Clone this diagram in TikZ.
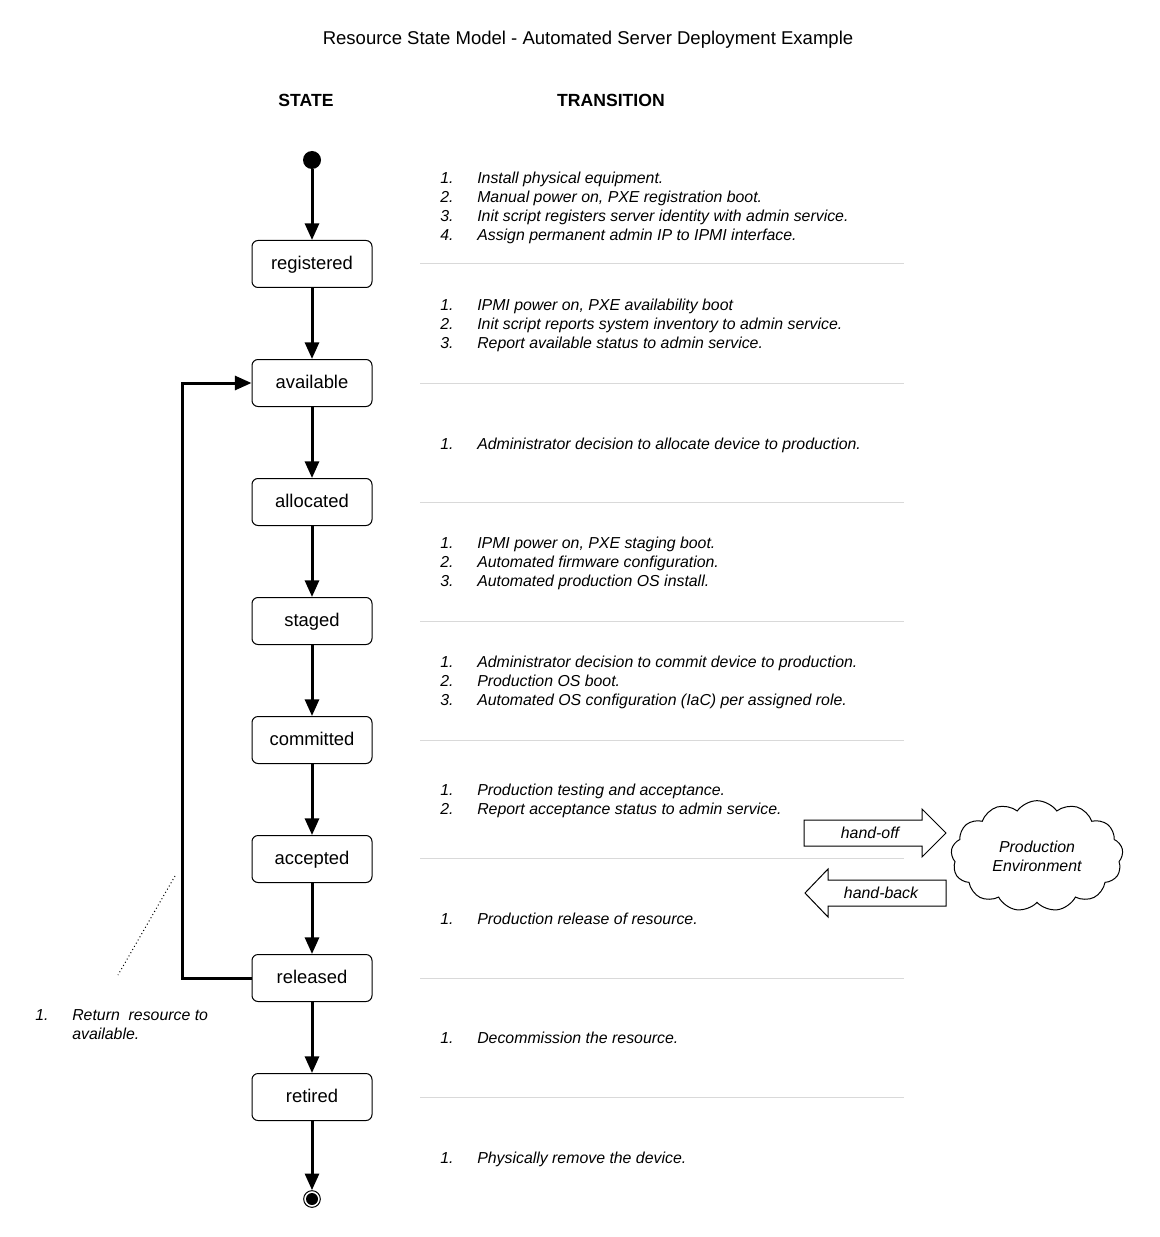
\documentclass[tikz,border=0pt]{standalone}
\usepackage{fontspec}
\setmainfont{Liberation Sans}
\usetikzlibrary{arrows.meta,shapes.symbols}
\newcommand\TransBlock[3]{%
  \foreach \t [count=\k] in {#3} {
    \node[ttxt, anchor=base west] (#2n\k) at (440,{#1+19*(\k-1)+6.5}) {\k.};
    \node[ttxt, anchor=base west] (#2t\k) at (477,{#1+19*(\k-1)+6.5}) {\t};
  }%
}
\begin{document}
\begin{tikzpicture}[x=0.75pt,y=-0.75pt,
  statebox/.style={draw, line width=0.75pt, rounded corners=4.5pt, minimum width=90pt, minimum height=35.25pt, inner sep=0pt, text height=0.82em, text depth=0pt, font=\fontsize{13.8pt}{16pt}\selectfont},
  flow/.style={line width=2.25pt, -{Triangle[width=10.5pt,length=12.5pt]}},
  ttxt/.style={inner sep=0pt, font=\fontsize{11.9pt}{14.25pt}\selectfont\itshape},
  sep/.style={draw=black!15, line width=0.75pt},
  hdr/.style={font=\fontsize{13.2pt}{15pt}\selectfont\bfseries, inner sep=0pt, anchor=base},
  blockarrow/.style={draw, line width=0.75pt, fill=white}
]
\useasboundingbox (0,0) rectangle (1159,1237);
\node[inner sep=0pt, anchor=base, font=\fontsize{13.9pt}{16pt}\selectfont] (title) at (588,45) {Resource State Model - Automated Server Deployment Example};
\node[hdr] (hstate) at (306,107) {STATE};
\node[hdr] (htrans) at (611,107) {TRANSITION};

% separators
\foreach \y [count=\i] in {264,383,502,621,740,858,978,1097} {
  \coordinate (sa\i) at (420,\y);
  \coordinate (sb\i) at (904,\y);
  \draw[sep] (sa\i) -- (sb\i);
}

% states
\node[circle, fill, minimum size=13.5pt, inner sep=0pt] (start) at (312,160) {};
\node[statebox] (registered) at (312,264) {registered};
\node[statebox] (available) at (312,383) {available};
\node[statebox] (allocated) at (312,502) {allocated};
\node[statebox] (staged) at (312,621) {staged};
\node[statebox] (committed) at (312,740) {committed};
\node[statebox] (accepted) at (312,859) {accepted};
\node[statebox] (released) at (312,978) {released};
\node[statebox] (retired) at (312,1097) {retired};
\node[circle, draw, line width=0.75pt, fill=white, minimum size=12.5pt, inner sep=0pt] (endo) at (312,1199) {};
\node[circle, fill, minimum size=9pt, inner sep=0pt] (endi) at (312,1199) {};

\draw[flow] (start) -- (registered);
\draw[flow] (registered) -- (available);
\draw[flow] (available) -- (allocated);
\draw[flow] (allocated) -- (staged);
\draw[flow] (staged) -- (committed);
\draw[flow] (committed) -- (accepted);
\draw[flow] (accepted) -- (released);
\draw[flow] (released) -- (retired);
\draw[flow] (retired) -- (endo);
\draw[flow] (released.west) -- ++(-69,0) |- (available.west);

% transitions
\TransBlock{177}{a}{{Install physical equipment.},{Manual power on, PXE registration boot.},{Init script registers server identity with admin service.},{Assign permanent admin IP to IPMI interface.}}
\TransBlock{304}{b}{{IPMI power on, PXE availability boot},{Init script reports system inventory to admin service.},{Report available status to admin service.}}
\TransBlock{443}{c}{{Administrator decision to allocate device to production.}}
\TransBlock{542}{d}{{IPMI power on, PXE staging boot.},{Automated firmware configuration.},{Automated production OS install.}}
\TransBlock{661}{e}{{Administrator decision to commit device to production.},{Production OS boot.},{Automated OS configuration (IaC) per assigned role.}}
\TransBlock{789}{f}{{Production testing and acceptance.},{Report acceptance status to admin service.}}
\TransBlock{918}{g}{{Production release of resource.}}
\TransBlock{1037}{h}{{Decommission the resource.}}
\TransBlock{1157}{i}{{Physically remove the device.}}

% note
\coordinate (d1) at (175,876);
\coordinate (d2) at (118,975);
\draw[dotted, line width=0.75pt] (d1) -- (d2);
\node[ttxt, anchor=base west] (noten) at (35,1020.5) {1.};
\node[ttxt, anchor=base west] (notet1) at (72,1020.5) {Return~ resource to};
\node[ttxt, anchor=base west] (notet2) at (72,1039.5) {available.};

% production environment
\node[cloud, draw, line width=0.75pt, cloud puffs=13, cloud puff arc=110, aspect=1.55, minimum width=129pt, minimum height=83pt, inner sep=0pt, align=center, font=\fontsize{11.9pt}{14.25pt}\selectfont\itshape] (prod) at (1037,856) {Production\\Environment};

\draw[blockarrow] (804,820) -- (922,820) -- (922,809) -- (946,833) -- (922,857) -- (922,846) -- (804,846) -- cycle;
\node[ttxt] (handoff) at (870,833) {hand-off};
\draw[blockarrow] (805,893) -- (828,869) -- (828,880) -- (946,880) -- (946,906) -- (828,906) -- (828,917) -- cycle;
\node[ttxt] (handback) at (881,893) {hand-back};
\end{tikzpicture}
\end{document}
